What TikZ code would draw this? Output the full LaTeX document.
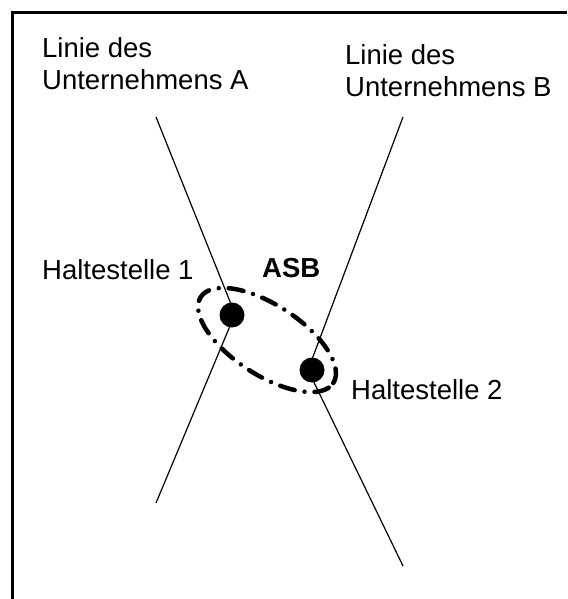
\documentclass[tikz,border=0pt]{standalone}
\usepackage{fontspec}
\setmainfont{Liberation Sans}
\begin{document}
\begin{tikzpicture}[x=1pt,y=-1pt,
  lbl/.style={font=\fontsize{27.5}{32}\selectfont, inner sep=0pt, anchor=north west, align=left},
  route/.style={line width=1.2pt},
  stop/.style={circle, fill=black, minimum size=25pt, inner sep=0pt},
  frameline/.style={line width=3pt},
  asbline/.style={line width=4.5pt, line cap=round, dash pattern=on 15pt off 10pt on 0pt off 10pt}]
\useasboundingbox (0,0) rectangle (567,599);
\draw[frameline] (12,599) -- (12,13) -- (567,13);
% route endpoints
\coordinate (a1) at (156,117);
\coordinate (j1) at (235,314);
\coordinate (a2) at (156,503);
\coordinate (b1) at (403,117);
\coordinate (j2) at (308,370);
\coordinate (b2) at (403,566);
\draw[route] (a1) -- (j1) -- (a2);
\draw[route] (b1) -- (j2) -- (b2);
% stops
\node[stop] (h1) at (232,315) {};
\node[stop] (h2) at (312,370) {};
% ASB area
\coordinate (asbc) at (267,340);
\draw[asbline, rotate around={-33:(asbc)}] (asbc) ellipse (79pt and 35pt);
% labels
\node[lbl] (la) at (42,37) {Linie des\\Unternehmens A};
\node[lbl] (lb) at (345,44) {Linie des\\Unternehmens B};
\node[lbl, anchor=base west] (t1) at (42,279) {Haltestelle 1};
\node[lbl, anchor=base west] (t2) at (351,399) {Haltestelle 2};
\node[lbl, anchor=base west, font=\fontsize{27.5}{32}\selectfont\bfseries] (asb) at (262,277) {ASB};
\end{tikzpicture}
\end{document}
